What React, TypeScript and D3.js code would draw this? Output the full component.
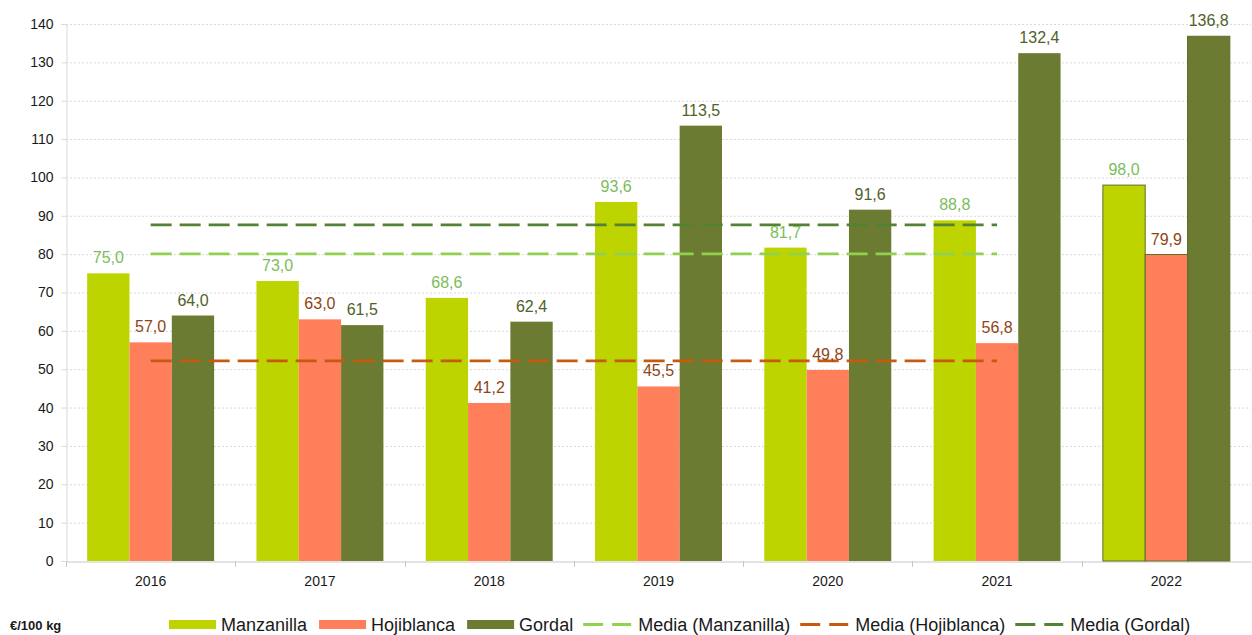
import React, { useEffect, useRef } from 'react';
import * as d3 from 'd3';

const years = ['2016', '2017', '2018', '2019', '2020', '2021', '2022'];
const series = ['Manzanilla', 'Hojiblanca', 'Gordal'];
const manzanilla = [75.0, 73.0, 68.6, 93.6, 81.7, 88.8, 98.0];
const hojiblanca = [57.0, 63.0, 41.2, 45.5, 49.8, 56.8, 79.9];
const gordal = [64.0, 61.5, 62.4, 113.5, 91.6, 132.4, 136.8];
// averages shown as dashed lines, 2016-2021
const mediaYears = ['2016', '2017', '2018', '2019', '2020', '2021'];
const mediaLabels = ['Media (Manzanilla)', 'Media (Hojiblanca)', 'Media (Gordal)'];
const mediaValues = [80.1, 52.2, 87.6];
const yTicks = [0, 10, 20, 30, 40, 50, 60, 70, 80, 90, 100, 110, 120, 130, 140];
const outlinedYears = ['2022'];

const barColors = ['#bdd400', '#ff7f5b', '#6b7b31'];
const labelColors = ['#7cbc5a', '#8e4516', '#4f6228'];
const mediaColors = ['#92d050', '#c55a11', '#548235'];

const W = 1252;
const H = 635;

export default function App() {
  const ref = useRef<SVGSVGElement>(null);

  useEffect(() => {
    const svg = d3.select(ref.current);
    svg.selectAll('*').remove();
    const font = 'Liberation Sans, Arial, sans-serif';
    const values = [manzanilla, hojiblanca, gordal];

    const x = d3.scaleBand().domain(years).range([66, 1251]).padding(0);
    const xs = d3.scaleBand().domain(series).range([0, x.bandwidth()]).paddingInner(0).paddingOuter(0.5);
    const y = d3.scaleLinear().domain([0, 140]).range([561, 24]);

    // grid
    svg.append('g').selectAll('line').data(yTicks.slice(1)).enter().append('line')
      .attr('x1', 66).attr('x2', 1251)
      .attr('y1', d => y(d) + 0.5).attr('y2', d => y(d) + 0.5)
      .attr('stroke', '#d9d9d9').attr('stroke-dasharray', '2,2');

    // y axis
    const yAxis = svg.append('g').attr('transform', 'translate(66.5,0)')
      .call(d3.axisLeft(y).tickValues(yTicks).tickSize(5).tickPadding(8).tickFormat(d3.format('d')));
    yAxis.select('.domain').attr('stroke', '#d9d9d9');
    yAxis.selectAll('.tick line').attr('stroke', '#d9d9d9');
    yAxis.selectAll('text').attr('font-family', font).attr('font-size', 14).attr('fill', '#1a1a1a');

    // x axis
    const xAxis = svg.append('g').attr('transform', 'translate(0,561.5)')
      .call(d3.axisBottom(x).tickSize(0).tickPadding(15));
    xAxis.select('.domain').attr('stroke', '#c8c8c8');
    xAxis.selectAll('text').attr('font-family', font).attr('font-size', 14).attr('fill', '#1a1a1a');
    svg.append('g').selectAll('line').data(years).enter().append('line')
      .attr('x1', d => Math.round(x(d)!) + 0.5).attr('x2', d => Math.round(x(d)!) + 0.5)
      .attr('y1', 561).attr('y2', 567).attr('stroke', '#c8c8c8');

    // bars
    series.forEach((s, i) => {
      svg.append('g').selectAll('rect').data(years).enter().append('rect')
        .attr('x', d => x(d)! + xs(s)!)
        .attr('y', (d, j) => y(values[i][j]))
        .attr('width', xs.bandwidth())
        .attr('height', (d, j) => y(0) - y(values[i][j]))
        .attr('fill', barColors[i])
        .attr('stroke', d => (outlinedYears.includes(d) ? '#5f6f2a' : 'none'))
        .attr('stroke-width', 1);
    });

    // media lines
    mediaValues.forEach((m, i) => {
      const line = d3.line<string>()
        .x(d => x(d)! + x.bandwidth() / 2)
        .y(() => y(m));
      svg.append('path').datum(mediaYears).attr('d', line)
        .attr('fill', 'none').attr('stroke', mediaColors[i])
        .attr('stroke-width', 2.75).attr('stroke-dasharray', '21,8');
    });

    // data labels
    series.forEach((s, i) => {
      svg.append('g').selectAll('text').data(years).enter().append('text')
        .attr('x', d => x(d)! + xs(s)! + xs.bandwidth() / 2)
        .attr('y', (d, j) => y(values[i][j]) - 10)
        .attr('text-anchor', 'middle')
        .attr('font-family', font).attr('font-size', 16)
        .attr('fill', labelColors[i])
        .text((d, j) => d3.format('.1f')(values[i][j]).replace('.', ','));
    });

    // unit
    svg.append('text').attr('x', 10).attr('y', 630)
      .attr('font-family', font).attr('font-size', 13).attr('font-weight', 'bold')
      .attr('fill', '#1a1a1a').text('€/100 kg');

    // legend
    const legend = svg.append('g');
    let lx = 169;
    const ly = 624.5;
    const items = [
      ...series.map((s, i) => ({ label: s, color: barColors[i], kind: 'bar' })),
      ...mediaLabels.map((s, i) => ({ label: s, color: mediaColors[i], kind: 'line' })),
    ];
    items.forEach((it, k) => {
      if (it.kind === 'bar') {
        legend.append('rect').attr('x', lx).attr('y', ly - 4.5).attr('width', 47).attr('height', 9).attr('fill', it.color);
        lx += 52;
      } else {
        legend.append('line').attr('x1', lx).attr('x2', lx + 48).attr('y1', ly).attr('y2', ly)
          .attr('stroke', it.color).attr('stroke-width', 3).attr('stroke-dasharray', '20,9');
        lx += 55;
      }
      const t = legend.append('text').attr('x', lx).attr('y', ly + 6.5)
        .attr('font-family', font).attr('font-size', 18).attr('fill', '#1a1a1a').text(it.label);
      const next = items[k + 1];
      lx += (t.node() as SVGTextElement).getComputedTextLength() + (next && next.kind === 'line' ? 10 : 12);
    });
  }, []);

  return (
    <svg ref={ref} width={W} height={H}
      style={{ display: 'block', position: 'absolute', left: 0, top: 0, background: '#fff' }} />
  );
}
